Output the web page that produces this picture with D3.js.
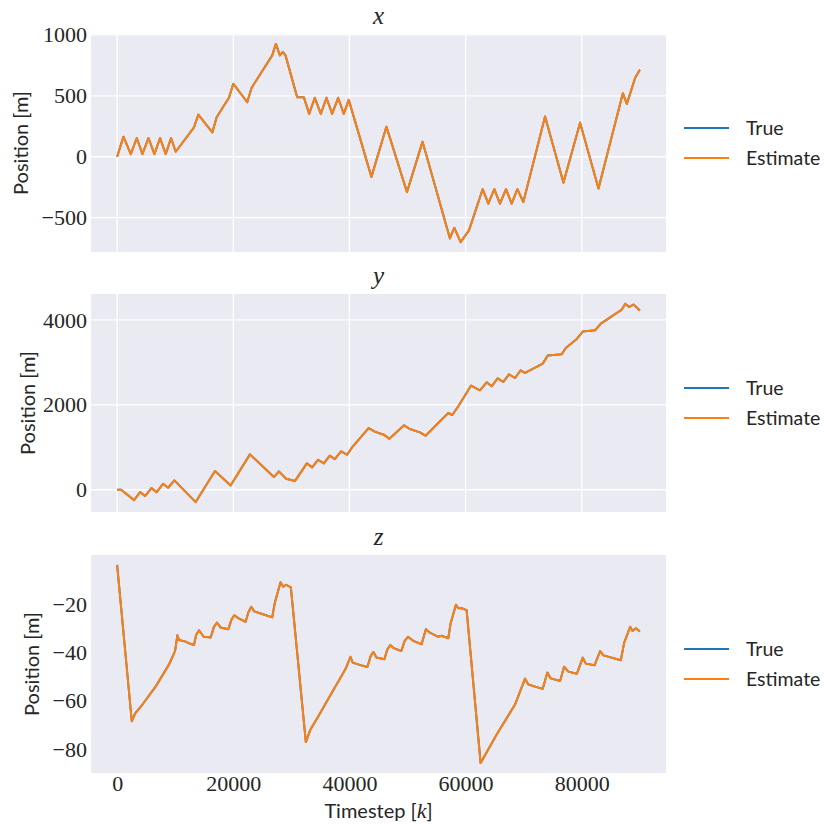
<!DOCTYPE html>
<html>
<head>
<meta charset="utf-8">
<script src="https://cdn.jsdelivr.net/npm/d3@7"></script>
<style>
  body { margin: 0; background: #fff; }
  svg text { fill: #262626; }
  .tick-label { font-family: "Liberation Serif", serif; font-size: 22px; }
  .axis-label { font-family: Lato, sans-serif; font-size: 20px; }
  .legend-label { font-family: Lato, sans-serif; font-size: 19.5px; }
  .title { font-family: "Liberation Serif", serif; font-style: italic; font-size: 25px; }
</style>
</head>
<body>
<div id="chart"></div>
<script>
// timesteps and positions (vertices of the trajectory)
const xSteps = [0, 1090, 2350, 3380, 4355, 5386, 6418, 7390, 8366, 9283, 10085, 13236, 13980, 16390, 17130, 19250,
  20000, 22400, 23150, 26700, 27330, 28020, 28535, 28990, 31000, 32145, 33060, 34036, 35070, 36040, 37016, 38050,
  39020, 39880, 43780, 46360, 49900, 52586, 57300, 58046, 59138, 60575, 61207, 62931, 63908, 64942, 65920, 66954,
  67930, 68908, 69942, 73678, 76839, 79712, 82873, 87069, 87758, 89195, 90000];
const xTrue = [0, 165, 22, 154, 22, 154, 22, 154, 22, 154, 41, 242, 346, 200, 324, 484,
  599, 448, 566, 832, 926, 832, 860, 832, 489, 489, 352, 484, 352, 484, 352, 484,
  352, 467, -165, 247, -290, 124, -670, -582, -700, -604, -514, -266, -385, -266, -385, -266,
  -385, -266, -371, 330, -212, 280, -261, 522, 434, 648, 714];
const xEst = xTrue.slice();

const ySteps = [0, 690, 2920, 3950, 4810, 5900, 6820, 7900, 8770, 9860, 13520, 16850, 19540, 22860, 26990, 27850,
  29110, 30600, 32660, 33580, 34610, 35580, 36610, 37470, 38560, 39590, 40450, 43320, 44350, 45900, 46870, 49400,
  50400, 52127, 53100, 57010, 57700, 58735, 60920, 62470, 63620, 64480, 65517, 66494, 67470, 68505, 69480, 70230,
  73275, 74138, 76551, 77240, 79137, 80170, 82300, 83275, 86896, 87470, 88160, 88907, 90000];
const yTrue = [0, 0, -244, -55, -149, 39, -55, 141, 47, 220, -291, 440, 102, 833, 299, 432,
  259, 204, 621, 527, 707, 621, 802, 723, 904, 825, 998, 1454, 1368, 1297, 1203, 1520,
  1430, 1352, 1273, 1808, 1761, 1965, 2452, 2342, 2531, 2437, 2625, 2539, 2720, 2633, 2814, 2751,
  2971, 3160, 3191, 3340, 3553, 3726, 3757, 3914, 4244, 4378, 4307, 4362, 4221];
const yEst = yTrue.slice();

const zSteps = [0, 2520, 3100, 4355, 6650, 8940, 9970, 10370, 10660, 11800, 12490, 13230, 13580, 14100, 14900, 16100,
  16670, 17190, 17820, 19140, 19650, 20170, 20860, 22120, 22580, 23090, 23610, 24980, 26700, 27160, 28130, 28590,
  29110, 29910, 32490, 33290, 34720, 36560, 38730, 39420, 40170, 40570, 41890, 43090, 43660, 44120, 44640, 46010,
  46530, 47040, 47620, 48930, 49510, 50080, 50980, 52414, 53160, 53850, 55287, 55862, 57012, 57414, 58333, 58736,
  59310, 60172, 62586, 65345, 68505, 70230, 70800, 72240, 73275, 74080, 74655, 76265, 76954, 77700, 79140, 80170,
  80690, 82180, 83160, 83735, 86720, 87300, 88333, 88736, 89310, 90000];
const zTrue = [-3.8, -68.4, -65.2, -61.5, -54.0, -44.9, -39.4, -32.9, -34.8, -35.5, -36.3, -36.9, -32.9, -30.8, -33.5, -33.8,
  -29.4, -27.6, -29.7, -30.4, -26.6, -24.6, -25.8, -27.3, -23.5, -21.1, -23.0, -24.1, -25.5, -19.3, -11.0, -12.8,
  -12.0, -13.1, -77.0, -71.8, -66.0, -58.3, -49.3, -46.3, -41.8, -44.2, -45.2, -46.0, -41.4, -39.8, -42.1, -42.8,
  -38.7, -36.9, -38.2, -39.4, -35.2, -33.5, -35.2, -36.6, -30.4, -31.8, -33.5, -33.1, -34.1, -28.0, -20.3, -21.7,
  -21.7, -22.5, -85.7, -73.9, -61.5, -50.8, -53.2, -54.3, -55.0, -48.3, -50.7, -51.8, -45.9, -47.9, -48.8, -42.1,
  -44.6, -45.3, -39.4, -41.2, -43.2, -35.9, -29.4, -31.1, -30.0, -31.3];
const zEst = zTrue.slice();

const stepTicks = [0, 20000, 40000, 60000, 80000];
const xTicks = [-500, 0, 500, 1000];
const yTicks = [0, 2000, 4000];
const zTicks = [-80, -60, -40, -20];
const seriesNames = ['True', 'Estimate'];
const seriesColors = ['#1f77b4', '#ff7f0e'];

const width = 825;
const height = 824;
const plotLeft = 91;
const plotRight = 666;
const plotHeight = 218;
const plotTops = [34, 294, 555];

const panels = [
  {title: 'x', steps: xSteps, series: [xTrue, xEst], ticks: xTicks, grid: true, labelX: 21},
  {title: 'y', steps: ySteps, series: [yTrue, yEst], ticks: yTicks, grid: true, labelX: 28},
  {title: 'z', steps: zSteps, series: [zTrue, zEst], ticks: zTicks, grid: false, labelX: 32}
];

// matplotlib style 5% margins
function padded(extent) {
  const pad = (extent[1] - extent[0]) * 0.05;
  return [extent[0] - pad, extent[1] + pad];
}

const svg = d3.select('#chart')
  .append('svg')
  .attr('width', width)
  .attr('height', height);

const fmt = d3.format('d');

const allSteps = d3.merge(panels.map(p => p.steps));
const xScale = d3.scaleLinear()
  .domain(padded(d3.extent(allSteps)))
  .range([plotLeft, plotRight]);

panels.forEach(function(p, i) {
  const top = plotTops[i];
  const g = svg.append('g');

  const yScale = d3.scaleLinear()
    .domain(padded(d3.extent(d3.merge(p.series))))
    .range([top + plotHeight, top]);

  g.append('rect')
    .attr('x', plotLeft)
    .attr('y', top)
    .attr('width', plotRight - plotLeft)
    .attr('height', plotHeight)
    .style('fill', '#eaeaf2');

  if (p.grid) {
    g.selectAll('line.vgrid')
      .data(stepTicks)
      .enter()
      .append('line')
      .attr('class', 'vgrid')
      .attr('x1', d => xScale(d))
      .attr('x2', d => xScale(d))
      .attr('y1', top)
      .attr('y2', top + plotHeight)
      .style('stroke', '#fff')
      .style('stroke-width', 1.3);

    g.selectAll('line.hgrid')
      .data(p.ticks)
      .enter()
      .append('line')
      .attr('class', 'hgrid')
      .attr('x1', plotLeft)
      .attr('x2', plotRight)
      .attr('y1', d => yScale(d))
      .attr('y2', d => yScale(d))
      .style('stroke', '#fff')
      .style('stroke-width', 1.3);
  }

  const yAxis = d3.axisLeft(yScale)
    .tickValues(p.ticks)
    .tickFormat(fmt)
    .tickSize(0)
    .tickPadding(4);

  g.append('g')
    .attr('transform', 'translate(' + plotLeft + ',0)')
    .call(yAxis)
    .call(a => a.select('.domain').remove())
    .selectAll('text')
    .attr('class', 'tick-label')
    .attr('fill', '#262626')
    .attr('font-family', null)
    .attr('font-size', null);

  const clipId = 'clip' + i;
  g.append('clipPath')
    .attr('id', clipId)
    .append('rect')
    .attr('x', plotLeft)
    .attr('y', top)
    .attr('width', plotRight - plotLeft)
    .attr('height', plotHeight);

  const line = d3.line()
    .x(d => xScale(d[0]))
    .y(d => yScale(d[1]));

  p.series.forEach(function(vals, k) {
    g.append('path')
      .datum(d3.zip(p.steps, vals))
      .attr('clip-path', 'url(#' + clipId + ')')
      .attr('d', line)
      .style('fill', 'none')
      .style('stroke', seriesColors[k])
      .style('stroke-width', 2)
      .style('stroke-linejoin', 'round');
  });

  g.append('text')
    .attr('class', 'title')
    .attr('x', (plotLeft + plotRight) / 2)
    .attr('y', top - 10)
    .attr('text-anchor', 'middle')
    .text(p.title);

  g.append('text')
    .attr('class', 'axis-label')
    .attr('transform', 'translate(' + p.labelX + ',' + (top + plotHeight / 2) + ') rotate(-90)')
    .attr('text-anchor', 'middle')
    .attr('dy', '0.35em')
    .text('Position [m]');

  // legend
  const legendMid = top + plotHeight / 2;
  const legend = g.selectAll('g.legend')
    .data(seriesNames)
    .enter()
    .append('g')
    .attr('class', 'legend')
    .attr('transform', (d, k) => 'translate(684,' + (legendMid - 15 + k * 30) + ')');

  legend.append('line')
    .attr('x1', 0)
    .attr('x2', 45)
    .style('stroke', (d, k) => seriesColors[k])
    .style('stroke-width', 2);

  legend.append('text')
    .attr('class', 'legend-label')
    .attr('x', 62)
    .attr('dy', '0.35em')
    .text(d => d);

  if (i === panels.length - 1) {
    const xAxis = d3.axisBottom(xScale)
      .tickValues(stepTicks)
      .tickFormat(fmt)
      .tickSize(0)
      .tickPadding(2);

    g.append('g')
      .attr('transform', 'translate(0,' + (top + plotHeight) + ')')
      .call(xAxis)
      .call(a => a.select('.domain').remove())
      .selectAll('text')
      .attr('class', 'tick-label')
      .attr('fill', '#262626')
      .attr('font-family', null)
      .attr('font-size', null);

    const xl = g.append('text')
      .attr('class', 'axis-label')
      .attr('x', (plotLeft + plotRight) / 2)
      .attr('y', 818)
      .attr('text-anchor', 'middle');
    xl.append('tspan').text('Timestep [');
    xl.append('tspan')
      .style('font-family', '"Liberation Serif", serif')
      .style('font-style', 'italic')
      .style('font-size', '22px')
      .text('k');
    xl.append('tspan').text(']');
  }
});
</script>
</body>
</html>
